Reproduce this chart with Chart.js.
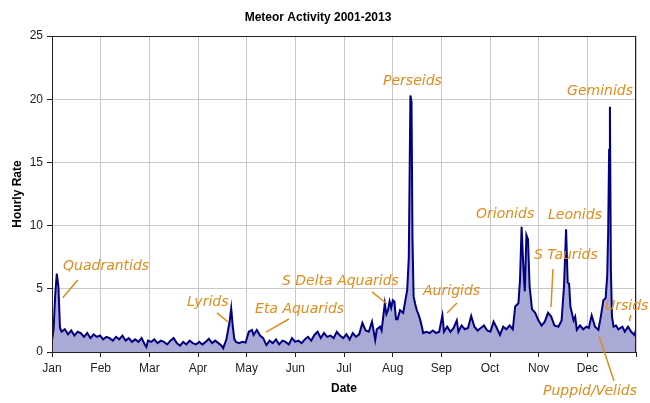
<!DOCTYPE html>
<html>
<head>
<meta charset="utf-8">
<script src="https://cdn.jsdelivr.net/npm/chart.js@4"></script>
<style>
  html, body { margin: 0; padding: 0; background: #fff; }
</style>
</head>
<body>
<canvas id="meteorChart" width="650" height="403"></canvas>
<script>
// Eixo X: meses (um tick a cada 1/12 do ano)
const months = ['Jan', 'Feb', 'Mar', 'Apr', 'May', 'Jun', 'Jul', 'Aug', 'Sep', 'Oct', 'Nov', 'Dec'];
const yTicks = [0, 5, 10, 15, 20, 25];

// Dia do ano e taxa horaria media
const days = [
  0, 1, 2, 3, 4, 5, 6, 8, 10, 12, 14, 16, 18, 20, 22, 24, 26, 28, 30,
  32, 34, 36, 38, 40, 42, 44, 46, 48, 50, 52, 54, 56, 58, 59, 60,
  62, 64, 66, 68, 70, 72, 74, 76, 78, 80, 82, 84, 86, 88, 90,
  92, 94, 96, 98, 100, 102, 104, 106, 107, 109, 110, 111, 112, 113, 114, 115,
  117, 119, 121, 123, 125, 126, 128, 130, 132, 134, 136, 138, 140,
  142, 144, 146, 148, 150, 152, 154, 156, 158, 160, 162, 164, 166, 168, 170,
  172, 174, 176, 178, 180, 182, 184, 186, 188, 190, 192, 194, 196, 198, 200,
  202, 203, 205, 206, 208, 209, 210, 211, 212, 213, 214, 215, 216, 217.5, 219.5,
  221, 222, 223, 224, 224.7, 225.3, 226, 227, 228, 229, 230, 231, 232, 234, 236, 238, 240,
  242, 244, 245, 247, 249, 251, 253, 254, 256, 258, 260, 262, 264, 266, 268, 270,
  272, 274, 276, 278, 280, 282, 284, 286, 288, 289.5, 291.5, 292.5, 293.5, 294.5,
  295.5, 296.5, 297.5, 298.5, 300, 302, 304, 306, 308, 310, 312, 314, 316.5, 318.5,
  320, 321.3, 322.3, 323.2, 324, 326, 327, 328, 330, 332, 334, 335.5, 337.3, 339.4,
  341.5, 343, 344.6, 346, 347, 347.6, 348.2, 348.7, 349.3, 350, 351, 352.5, 354,
  356.5, 358, 360, 362, 364, 365
];
const rate = [
  0.9, 1.8, 4.5, 6.2, 5.2, 1.9, 1.6, 1.8, 1.4, 1.7, 1.3, 1.6, 1.5, 1.2, 1.5, 1.1, 1.4, 1.2, 1.3,
  1.0, 1.2, 1.1, 0.9, 1.2, 1.0, 1.3, 0.9, 1.1, 0.8, 1.0, 0.8, 1.1, 0.6, 0.4, 0.9,
  0.8, 1.0, 0.7, 0.9, 0.8, 0.6, 0.9, 1.1, 0.7, 0.5, 0.8, 0.6, 0.9, 0.7, 0.6,
  0.8, 0.6, 0.8, 1.05, 0.7, 0.9, 0.7, 0.5, 0.3, 1.0, 1.7, 2.4, 3.45, 2.0, 1.0, 0.8,
  0.7, 0.8, 0.75, 1.6, 1.75, 1.35, 1.75, 1.3, 1.1, 0.55, 0.9, 0.7, 1.0,
  0.6, 0.9, 0.8, 0.6, 1.1, 0.8, 0.9, 0.7, 1.0, 1.2, 0.9, 1.35, 1.6, 1.1, 1.5,
  1.2, 1.3, 1.1, 1.6, 1.3, 1.1, 1.4, 1.0, 1.5, 1.2, 1.4, 2.3, 1.7, 1.6, 2.4,
  0.95, 1.8, 2.0, 1.7, 3.85, 3.0, 3.3, 4.0, 3.5, 4.1, 4.0, 2.6, 2.6, 3.3, 3.1,
  4.2, 4.9, 7.5, 20.3, 19.8, 9.0, 4.4, 3.8, 3.3, 3.0, 2.6, 2.1, 1.5, 1.6, 1.5, 1.7, 1.5,
  1.6, 2.9, 1.6, 2.0, 1.6, 1.9, 2.5, 1.6, 2.1, 1.8, 1.9, 2.85, 2.0, 1.7, 1.9, 2.1,
  1.7, 1.6, 2.4, 1.9, 1.35, 2.0, 1.8, 2.1, 1.8, 3.6, 3.85, 5.7, 9.9, 7.0,
  4.8, 9.25, 8.9, 5.2, 3.4, 3.1, 2.5, 2.1, 2.4, 3.1, 2.8, 2.1, 2.0, 2.5,
  5.2, 9.7, 5.5, 5.4, 3.6, 2.5, 2.8, 1.75, 2.1, 1.8, 2.0, 1.9, 2.9, 2.0,
  1.75, 2.8, 4.1, 4.25, 6.0, 9.5, 16.0, 19.4, 6.5, 2.8, 2.0, 2.1, 1.8,
  2.0, 1.6, 2.0, 1.6, 1.35, 1.75
];

// Chuvas de meteoros anotadas no grafico
const showers = ['Quadrantids', 'Lyrids', 'Eta Aquarids', 'S Delta Aquarids', 'Perseids', 'Aurigids',
  'Orionids', 'S Taurids', 'Leonids', 'Geminids', 'Ursids', 'Puppid/Velids'];

// Posicao dos textos (em unidades do grafico: dia, taxa) e linhas de chamada
const notePlaces = {
  'Quadrantids': { x: 6.9, y: 6.8, line: [16.1, 5.7, 6.7, 4.3] },
  'Lyrids': { x: 84.4, y: 3.96, line: [103.1, 3.09, 110, 2.37] },
  'Eta Aquarids': { x: 126.9, y: 3.4, line: [148.1, 2.61, 133.75, 1.58] },
  'S Delta Aquarids': { x: 143.75, y: 5.62, line: [200, 4.75, 209.4, 3.8] },
  'Perseids': { x: 206.9, y: 21.44 },
  'Aurigids': { x: 231.9, y: 4.83, line: [253.1, 3.88, 246.9, 3.09] },
  'Orionids': { x: 265, y: 10.92 },
  'S Taurids': { x: 301.25, y: 7.67, line: [313.1, 6.57, 311.9, 3.56] },
  'Leonids': { x: 310, y: 10.84 },
  'Geminids': { x: 321.9, y: 20.65 },
  'Ursids': { x: 345.6, y: 3.64, line: [361.7, 2.93, 360.9, 2.45] },
  'Puppid/Velids': { x: 306.9, y: -3.09, line: [341.9, 1.27, 351.25, -2.29] }
};

const orange = '#e08c1c';

// Moldura do grafico
const frame = {
  id: 'frame',
  afterDatasetsDraw(chart) {
    const a = chart.chartArea;
    const ctx = chart.ctx;
    ctx.save();
    ctx.strokeStyle = '#222';
    ctx.lineWidth = 1;
    ctx.strokeRect(Math.round(a.left) + 0.5, Math.round(a.top) + 0.5,
      Math.round(a.right - a.left) - 1, Math.round(a.bottom - a.top));
    ctx.restore();
  }
};

// Textos das chuvas de meteoros
const notes = {
  id: 'notes',
  afterDraw(chart) {
    const xs = chart.scales.x;
    const ys = chart.scales.y;
    const ctx = chart.ctx;
    ctx.save();
    ctx.font = 'italic 14px "DejaVu Sans"';
    ctx.fillStyle = orange;
    ctx.strokeStyle = orange;
    ctx.lineWidth = 1.5;
    ctx.textBaseline = 'middle';
    ctx.textAlign = 'left';
    showers.forEach((name) => {
      const p = notePlaces[name];
      ctx.fillText(name, xs.getPixelForValue(p.x), ys.getPixelForValue(p.y));
      if (p.line) {
        ctx.beginPath();
        ctx.moveTo(xs.getPixelForValue(p.line[0]), ys.getPixelForValue(p.line[1]));
        ctx.lineTo(xs.getPixelForValue(p.line[2]), ys.getPixelForValue(p.line[3]));
        ctx.stroke();
      }
    });
    ctx.restore();
  }
};

const ctx = document.getElementById('meteorChart').getContext('2d');
const meteorChart = new Chart(ctx, {
  type: 'line',
  data: {
    datasets: [{
      label: 'Hourly Rate',
      data: days.map((d, i) => ({ x: d, y: rate[i] })),
      borderColor: '#000080',
      borderWidth: 2,
      backgroundColor: 'rgb(170, 170, 214)',
      fill: 'origin',
      pointRadius: 0,
      tension: 0
    }]
  },
  options: {
    responsive: false,
    animation: false,
    layout: { padding: { left: 0, right: 14, top: 0, bottom: 0 } },
    plugins: {
      legend: { display: false },
      tooltip: { enabled: false },
      title: {
        display: true,
        text: 'Meteor Activity 2001-2013',
        color: '#000',
        font: { family: '"Liberation Sans", Arial', size: 12, weight: 'bold' },
        padding: { top: 10, bottom: 11.6 }
      }
    },
    scales: {
      x: {
        type: 'linear',
        min: 0,
        max: 365,
        afterBuildTicks(scale) {
          scale.ticks = months.concat(['']).map((m, i) => ({ value: i * 365 / 12 }));
        },
        afterFit(scale) { scale.height = 51; },
        ticks: {
          autoSkip: false,
          maxRotation: 0,
          padding: 4,
          color: '#222',
          font: { family: '"Liberation Sans", Arial', size: 12 },
          callback: (v, i) => months[i] || ''
        },
        grid: { color: '#c8c8c8', tickColor: '#222', tickLength: 5 },
        border: { color: '#222' },
        title: {
          display: true,
          text: 'Date',
          color: '#000',
          font: { family: '"Liberation Sans", Arial', size: 12, weight: 'bold' },
          padding: { top: 4, bottom: 7 }
        }
      },
      y: {
        min: 0,
        max: 25,
        afterBuildTicks(scale) {
          scale.ticks = yTicks.map((v) => ({ value: v }));
        },
        afterFit(scale) { scale.width = 52; },
        ticks: {
          padding: 4,
          color: '#222',
          font: { family: '"Liberation Sans", Arial', size: 12 }
        },
        grid: { color: '#c8c8c8', tickColor: '#222', tickLength: 5 },
        border: { color: '#222' },
        title: {
          display: true,
          text: 'Hourly Rate',
          color: '#000',
          font: { family: '"Liberation Sans", Arial', size: 12, weight: 'bold' },
          padding: { top: 10, bottom: 4 }
        }
      }
    }
  },
  plugins: [frame, notes]
});
</script>
</body>
</html>
